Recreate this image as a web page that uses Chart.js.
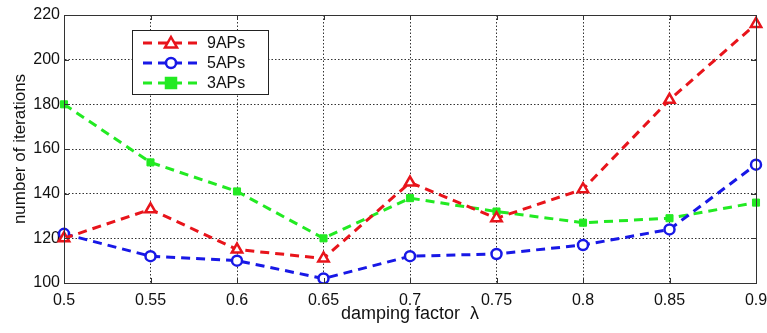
<!DOCTYPE html>
<html><head><meta charset="utf-8">
<script src="https://cdn.jsdelivr.net/npm/chart.js@4/dist/chart.umd.min.js"></script>
<style>html,body{margin:0;padding:0;background:#fff}#w{width:767px;height:333px}</style>
</head><body><div id="w"><canvas id="c" width="767" height="333"></canvas></div>
<script>
const categories = ["0.5","0.55","0.6","0.65","0.7","0.75","0.8","0.85","0.9"];
const aps9 = [120,133,115,111,145,129,142,182,216];
const aps5 = [122,112,110,102,112,113,117,124,153];
const aps3 = [180,154,141,120,138,132,127,129,136];
const yTicks = [100,120,140,160,180,200,220];

const FONT = "'Liberation Sans', Arial, sans-serif";

const framePlugin = {
  id: 'frame',
  afterDatasetsDraw(chart) {
    const {ctx, chartArea: a, scales} = chart;
    ctx.save();
    ctx.strokeStyle = '#333';
    ctx.lineWidth = 1;
    ctx.setLineDash([]);
    ctx.strokeRect(Math.round(a.left)+0.5, Math.round(a.top)+0.5, Math.round(a.right-a.left), Math.round(a.bottom-a.top));
    const tl = 5;
    ctx.beginPath();
    scales.x.ticks.forEach((t,i)=>{
      const x = Math.round(scales.x.getPixelForTick(i))+0.5;
      ctx.moveTo(x,a.bottom); ctx.lineTo(x,a.bottom-tl);
      ctx.moveTo(x,a.top); ctx.lineTo(x,a.top+tl);
    });
    scales.y.ticks.forEach((t,i)=>{
      const y = Math.round(scales.y.getPixelForTick(i))+0.5;
      ctx.moveTo(a.left,y); ctx.lineTo(a.left+tl,y);
      ctx.moveTo(a.right,y); ctx.lineTo(a.right-tl,y);
    });
    ctx.stroke();
    // legend
    const bx = 132.5, by = 30.5, bw = 136, bh = 64;
    ctx.fillStyle = '#fff';
    ctx.fillRect(bx, by, bw, bh);
    ctx.strokeStyle = '#222';
    ctx.strokeRect(bx, by, bw, bh);
    chart.data.datasets.forEach((ds, i) => {
      const y = 43 + i*20;
      ctx.strokeStyle = ds.borderColor;
      ctx.lineWidth = 3;
      ctx.setLineDash(ds.borderDash);
      ctx.beginPath(); ctx.moveTo(143, y); ctx.lineTo(200, y); ctx.stroke();
      ctx.setLineDash([]);
      drawMarker(ctx, ds.pointStyle, 171, y, ds.borderColor, ds.pointBackgroundColor);
      ctx.fillStyle = '#111';
      ctx.font = '16px ' + FONT;
      ctx.textBaseline = 'middle';
      ctx.fillText(ds.label, 207, y+1);
    });
    ctx.restore();
  }
};
function drawMarker(ctx, style, x, y, stroke, fill) {
  ctx.lineWidth = 2.5;
  ctx.strokeStyle = stroke;
  ctx.fillStyle = fill;
  ctx.beginPath();
  if (style === 'triangle') { ctx.moveTo(x, y-6); ctx.lineTo(x+6, y+4.5); ctx.lineTo(x-6, y+4.5); ctx.closePath(); }
  else if (style === 'circle') { ctx.arc(x, y, 5, 0, Math.PI*2); }
  else { ctx.rect(x-5, y-5, 10, 10); }
  ctx.fill(); ctx.stroke();
}

new Chart(document.getElementById('c'), {
  type: 'line',
  data: {
    labels: categories,
    datasets: [
      {label:'9APs', data: aps9, borderColor:'#e8141b', pointBackgroundColor:'#fff', pointBorderColor:'#e8141b', pointStyle:'triangle', pointRadius:6, pointBorderWidth:2.5, borderWidth:3, borderDash:[9,6], tension:0},
      {label:'5APs', data: aps5, borderColor:'#1818e6', pointBackgroundColor:'#fff', pointBorderColor:'#1818e6', pointStyle:'circle', pointRadius:5, pointBorderWidth:2.5, borderWidth:3, borderDash:[9,6], tension:0},
      {label:'3APs', data: aps3, borderColor:'#22ea22', pointBackgroundColor:'#22ea22', pointBorderColor:'#22ea22', pointStyle:'rect', pointRadius:5, pointBorderWidth:1, borderWidth:3, borderDash:[9,6], tension:0}
    ]
  },
  options: {
    responsive: false,
    animation: false,
    layout: {padding: {top: 15, right: 11, left: 0, bottom: 0}},
    plugins: {legend: {display:false}, tooltip:{enabled:false}},
    scales: {
      x: {
        type: 'category', offset: false,
        grid: {color:'#333', drawTicks:false, lineWidth:1},
        border: {display:true, color:'#333', dash:[1.5,2]},
        ticks: {color:'#111', font:{family:FONT, size:16}, padding:8, maxRotation:0, autoSkip:false},
        title: {display:true, text:'damping factor  λ', color:'#111', font:{family:FONT, size:18}, padding:{top:0,bottom:8}},
        afterFit(s){ s.height = 50; s.paddingRight = 0; s.paddingLeft = 0; }
      },
      y: {
        min:100, max:220,
        afterBuildTicks(s){ s.ticks = yTicks.map(v=>({value:v})); },
        grid: {color:'#333', drawTicks:false, lineWidth:1},
        border: {display:true, color:'#333', dash:[1.5,2]},
        ticks: {color:'#111', font:{family:FONT, size:16}, padding:4},
        title: {display:true, text:'number of iterations', color:'#111', font:{family:FONT, size:17}, padding:{top:10,bottom:0}},
        afterFit(s){ s.width = 64; s.paddingTop = 0; s.paddingBottom = 0; }
      }
    }
  },
  plugins: [framePlugin]
});
</script>
</body></html>
